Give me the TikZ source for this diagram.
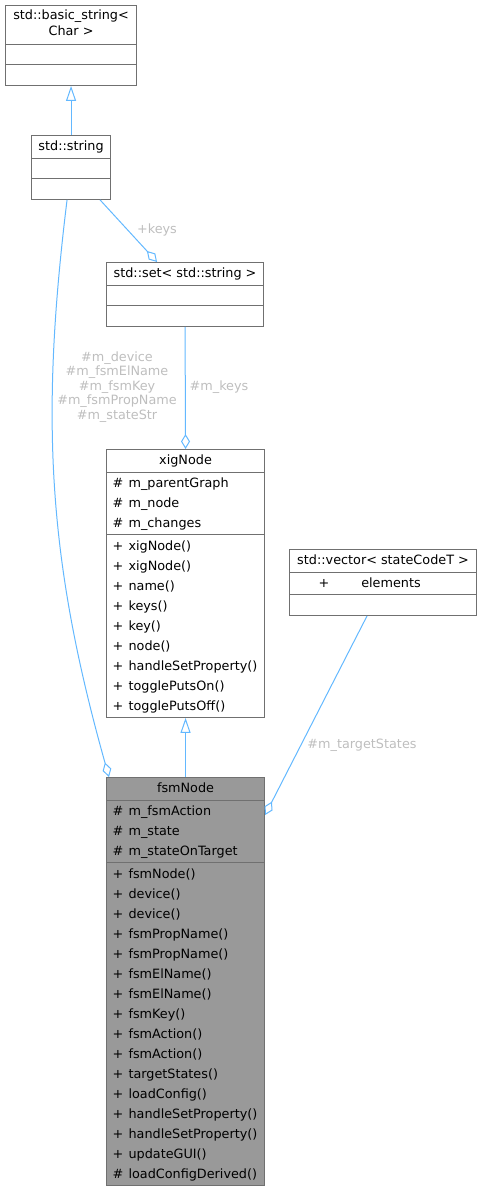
\documentclass[tikz,border=0pt]{standalone}
\usepackage{fontspec}
\setmainfont{DejaVu Sans}
\usetikzlibrary{shapes.multipart,arrows.meta}

\definecolor{edgeblue}{HTML}{63B8FF}
\definecolor{boxgray}{HTML}{707070}
\definecolor{mainfill}{HTML}{999999}
\definecolor{labelgray}{HTML}{BEBEBE}

% one member line, an empty compartment, a title line
\newcommand{\mrow}[2]{\hbox{\rule[-6pt]{0pt}{20pt}\makebox[16pt][l]{#1}#2}}
\newcommand{\mempty}{\rule[-4pt]{0pt}{18pt}}
\newcommand{\mtitle}[1]{\rule[-6pt]{0pt}{20pt}#1}

\begin{document}
\begin{tikzpicture}[
  x=1pt, y=-1pt,
  every node/.style={font=\fontsize{12.8}{15}\selectfont},
  cls/.style={rectangle split, rectangle split parts=3, rectangle split part align={center,left,left}, draw=boxgray, fill=white, line width=1.1pt, inner xsep=6pt, inner ysep=0.75pt, anchor=north west},
  mainclass/.style={cls, fill=mainfill},
  edge/.style={draw=edgeblue, line width=1pt},
  inherit/.style={edge, -{Triangle[open, length=15pt, width=10pt]}},
  member/.style={edge, -{Diamond[open, length=15pt, width=9pt]}},
  lbl/.style={text=labelgray, align=center, font=\fontsize{12.8}{14.6}\selectfont}
]
\useasboundingbox (0,0) rectangle (481,1188);

% Classes
\node[cls, minimum width=131pt] (bstr) at (5,5)
  {\vbox{\offinterlineskip
     \hbox{\rule[-2pt]{0pt}{15pt}\makebox[119pt]{std::basic\_string<}}
     \hbox{\rule[-7pt]{0pt}{20pt}\makebox[119pt]{Char >}}}
   \nodepart{two}\mempty
   \nodepart{three}\mempty};

\node[cls, minimum width=79pt] (str) at (31,135)
  {\mtitle{std::string}
   \nodepart{two}\mempty
   \nodepart{three}\mempty};

\node[cls, minimum width=157pt] (set) at (106,262)
  {\mtitle{std::set< std::string >}
   \nodepart{two}\mempty
   \nodepart{three}\mempty};

\node[cls, minimum width=158pt] (xig) at (106,449)
  {\mtitle{xigNode}
   \nodepart{two}\vbox{\offinterlineskip
     \mrow{\#}{m\_parentGraph}
     \mrow{\#}{m\_node}
     \mrow{\#}{m\_changes}}
   \nodepart{three}\vbox{\offinterlineskip
     \mrow{+}{xigNode()}
     \mrow{+}{xigNode()}
     \mrow{+}{name()}
     \mrow{+}{keys()}
     \mrow{+}{key()}
     \mrow{+}{node()}
     \mrow{+}{handleSetProperty()}
     \mrow{+}{togglePutsOn()}
     \mrow{+}{togglePutsOff()}}};

\node[cls, minimum width=187pt] (vec) at (289,549)
  {\mtitle{std::vector< stateCodeT >}
   \nodepart{two}\hbox{\rule[-6pt]{0pt}{20pt}\hspace{23pt}+\hspace{32pt}elements}
   \nodepart{three}\mempty};

\node[mainclass, minimum width=158pt] (fsm) at (106,777)
  {\mtitle{fsmNode}
   \nodepart{two}\vbox{\offinterlineskip
     \mrow{\#}{m\_fsmAction}
     \mrow{\#}{m\_state}
     \mrow{\#}{m\_stateOnTarget}}
   \nodepart{three}\vbox{\offinterlineskip
     \mrow{+}{fsmNode()}
     \mrow{+}{device()}
     \mrow{+}{device()}
     \mrow{+}{fsmPropName()}
     \mrow{+}{fsmPropName()}
     \mrow{+}{fsmElName()}
     \mrow{+}{fsmElName()}
     \mrow{+}{fsmKey()}
     \mrow{+}{fsmAction()}
     \mrow{+}{fsmAction()}
     \mrow{+}{targetStates()}
     \mrow{+}{loadConfig()}
     \mrow{+}{handleSetProperty()}
     \mrow{+}{handleSetProperty()}
     \mrow{+}{updateGUI()}
     \mrow{\#}{loadConfigDerived()}}};

% Edge labels
\node[lbl] (lkeys) at (157,230) {+keys};
\node[lbl] (lmkeys) at (219,387) {\#m\_keys};
\node[lbl] (lstr) at (117,387) {\#m\_device\\\#m\_fsmElName\\\#m\_fsmKey\\\#m\_fsmPropName\\\#m\_stateStr};
\node[lbl] (ltarget) at (362,745) {\#m\_targetStates};

% Inheritance
\draw[inherit] (str.north) -- (bstr.south);
\draw[inherit] (fsm.north) -- (xig.south);

% Members
\draw[member] ([xshift=29pt]str.south) -- ([xshift=-28pt]set.north);
\draw[member] (set.south) -- (xig.north);
\draw[member] ([xshift=-4pt]str.south) .. controls (40,420) and (48,560) .. ([xshift=3pt]fsm.north west);
\draw[member] ([xshift=-16pt]vec.south) -- ([yshift=-38pt]fsm.north east);

\end{tikzpicture}
\end{document}
